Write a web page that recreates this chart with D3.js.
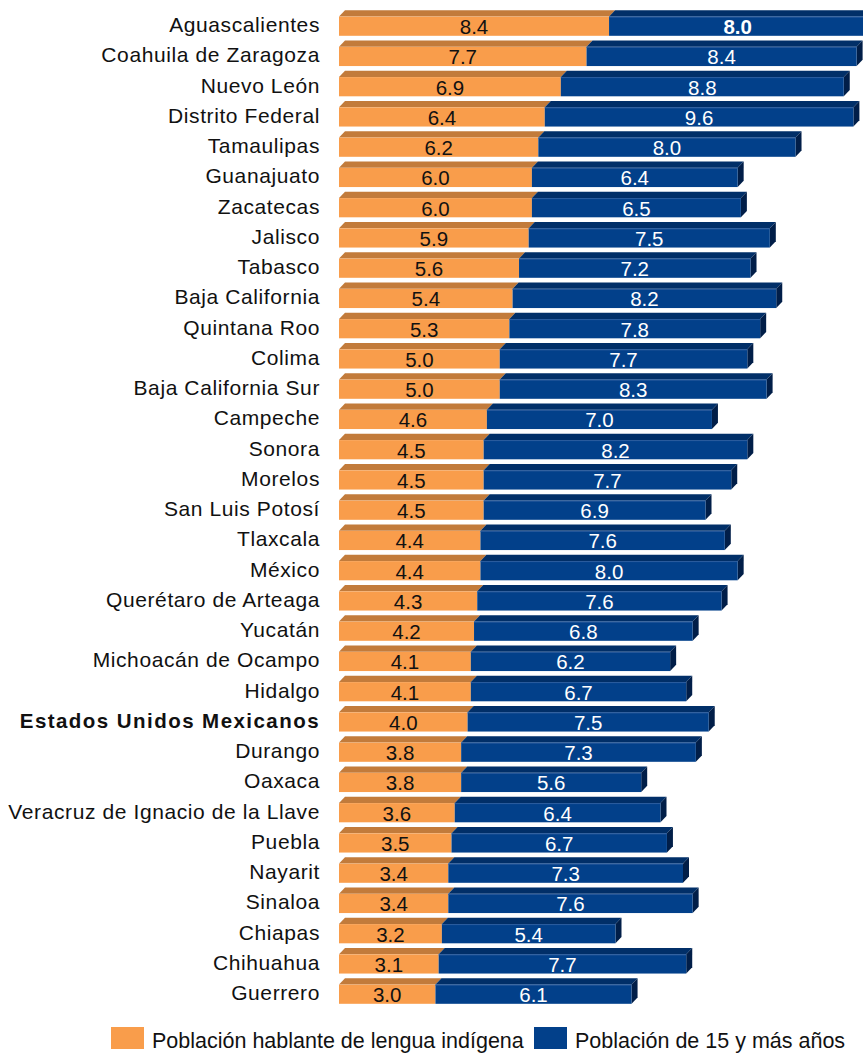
<!DOCTYPE html>
<html><head><meta charset="utf-8">
<script src="https://cdn.jsdelivr.net/npm/d3@7"></script>
<style>body{margin:0;background:#fff}svg{display:block}</style>
</head><body>
<svg id="c" width="863" height="1053"></svg>
<script>
const states = ["Aguascalientes","Coahuila de Zaragoza","Nuevo León","Distrito Federal","Tamaulipas","Guanajuato","Zacatecas","Jalisco","Tabasco","Baja California","Quintana Roo","Colima","Baja California Sur","Campeche","Sonora","Morelos","San Luis Potosí","Tlaxcala","México","Querétaro de Arteaga","Yucatán","Michoacán de Ocampo","Hidalgo","Estados Unidos Mexicanos","Durango","Oaxaca","Veracruz de Ignacio de la Llave","Puebla","Nayarit","Sinaloa","Chiapas","Chihuahua","Guerrero"];
const indigena = [8.4,7.7,6.9,6.4,6.2,6.0,6.0,5.9,5.6,5.4,5.3,5.0,5.0,4.6,4.5,4.5,4.5,4.4,4.4,4.3,4.2,4.1,4.1,4.0,3.8,3.8,3.6,3.5,3.4,3.4,3.2,3.1,3.0];
const total15 = [8.0,8.4,8.8,9.6,8.0,6.4,6.5,7.5,7.2,8.2,7.8,7.7,8.3,7.0,8.2,7.7,6.9,7.6,8.0,7.6,6.8,6.2,6.7,7.5,7.3,5.6,6.4,6.7,7.3,7.6,5.4,7.7,6.1];
const seriesNames = ["Población hablante de lengua indígena","Población de 15 y más años"];
const national = "Estados Unidos Mexicanos";

const svg = d3.select("#c");
const font = "Arial, 'Liberation Sans', sans-serif";
const x = d3.scaleLinear().domain([0,16]).range([339, 339+16*32.15]);
const y = d3.scaleBand().domain(states).range([10.3, 10.3+states.length*30.25]);
const dx = 6, dy = 6.3, fh = 19.2;
const C = {
  oFront:"#F99D4B", oTop:"#C27B3B",
  bFront:"#02408A", bTop:"#012F68", bSide:"#011E48", bEdge:"#2C5C9E"
};
const rows = states.map((s,i)=>({s, a:indigena[i], b:total15[i]}));
const g = svg.append("g");
rows.forEach((d,i)=>{
  const yt = y(d.s), yf = yt+dy, yb = yf+fh;
  const x0 = x(0), x1 = x(d.a), x2 = x(d.a+d.b);
  const r = g.append("g");
  r.append("path").attr("d",`M${x0},${yf}L${x0+dx},${yt}L${x1+dx},${yt}L${x1},${yf}Z`).attr("fill",C.oTop);
  r.append("path").attr("d",`M${x1},${yf}L${x1+dx},${yt}L${x2+dx},${yt}L${x2},${yf}Z`).attr("fill",C.bTop);
  r.append("path").attr("d",`M${x2},${yf}L${x2+dx},${yt}L${x2+dx},${yb-dy}L${x2},${yb}Z`).attr("fill",C.bSide);
  r.append("rect").attr("x",x0).attr("y",yf).attr("width",x1-x0).attr("height",fh).attr("fill",C.oFront);
  r.append("rect").attr("x",x1).attr("y",yf).attr("width",x2-x1).attr("height",fh).attr("fill",C.bFront);
  r.append("line").attr("x1",x1).attr("x2",x2).attr("y1",yf+0.5).attr("y2",yf+0.5).attr("stroke",C.bEdge).attr("stroke-width",1);
  const ty = yf+fh/2+0.5;
  r.append("text").attr("x",(x0+x1)/2).attr("y",ty).attr("text-anchor","middle").attr("dominant-baseline","central")
    .attr("font-family",font).attr("font-size",20.5).attr("fill","#111").text(d.a.toFixed(1));
  r.append("text").attr("x",(x1+x2)/2).attr("y",ty).attr("text-anchor","middle").attr("dominant-baseline","central")
    .attr("font-family",font).attr("font-size",20.5).attr("fill","#fff")
    .attr("font-weight", i===0?"bold":"normal").text(d.b.toFixed(1));
  const isNat = d.s===national;
  r.append("text").attr("x",320).attr("y",yf+fh/2-1.5).attr("text-anchor","end").attr("dominant-baseline","central")
    .attr("font-family",font).attr("font-size",isNat?20.5:21).attr("fill","#111")
    .attr("font-weight",isNat?"bold":"normal").attr("letter-spacing",isNat?"1.45px":"0.6px").text(d.s);
});
const leg = svg.append("g");
const items = [{n:seriesNames[0],c:C.oFront,x:111},{n:seriesNames[1],c:C.bFront,x:534}];
items.forEach(it=>{
  leg.append("rect").attr("x",it.x).attr("y",1027).attr("width",33).attr("height",22).attr("fill",it.c);
  leg.append("text").attr("x",it.x+41).attr("y",1041).attr("dominant-baseline","central")
    .attr("font-family",font).attr("font-size",21.5).attr("fill","#111").text(it.n);
});
</script>
</body></html>
